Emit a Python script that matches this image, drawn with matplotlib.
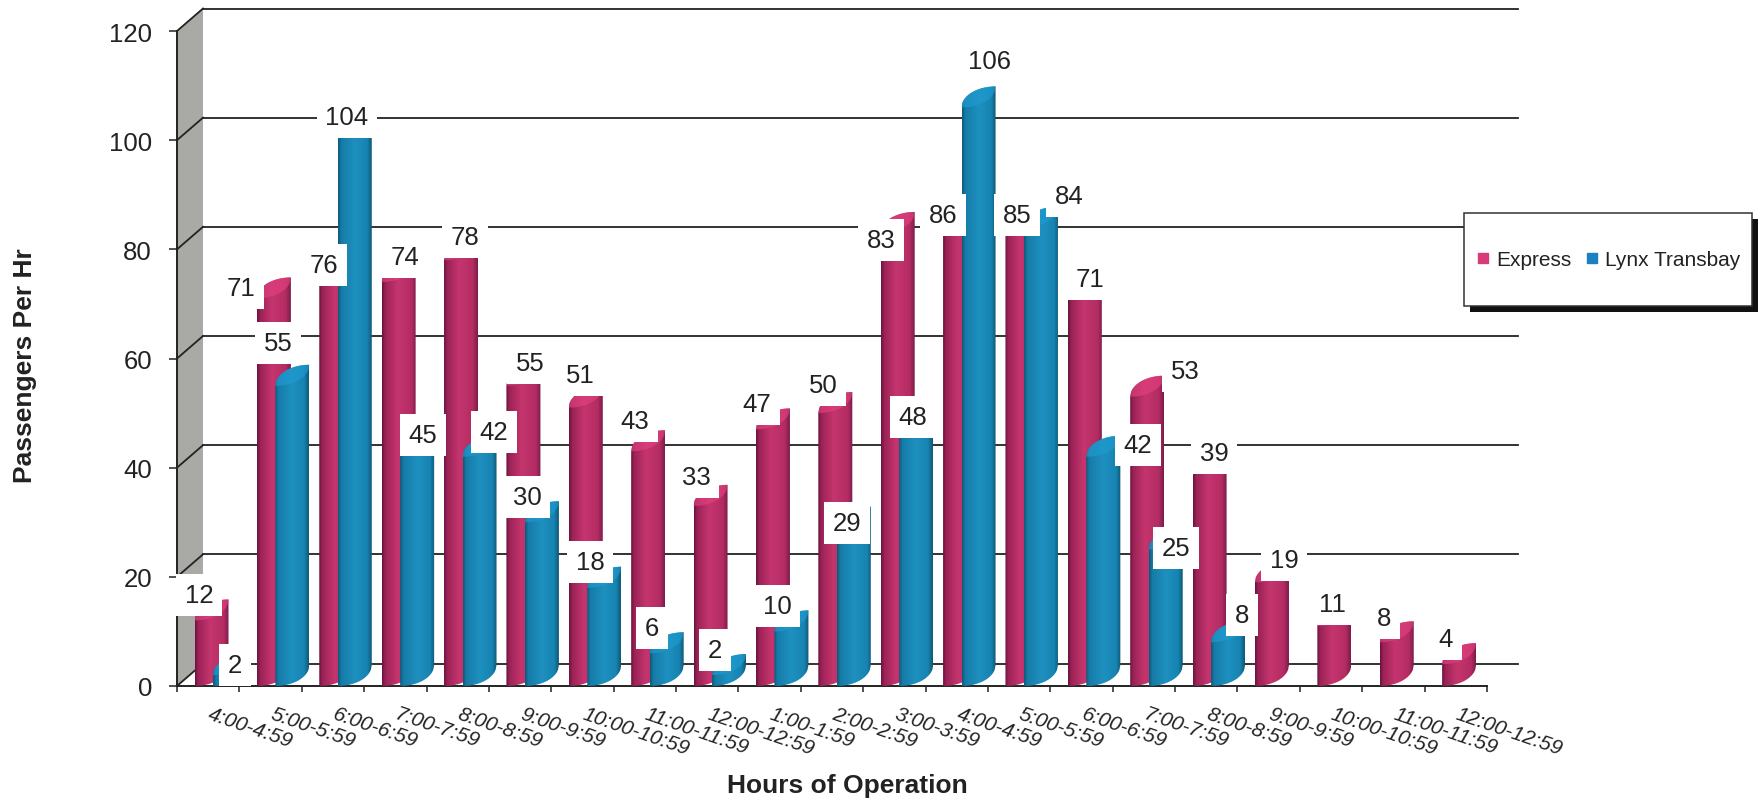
import numpy as np
import matplotlib
matplotlib.use("Agg")
import matplotlib.pyplot as plt
from matplotlib.colors import LinearSegmentedColormap
from matplotlib.lines import Line2D
from matplotlib.patches import Polygon, Rectangle

plt.rcParams["font.family"] = ["Liberation Sans", "DejaVu Sans"]

# ---- data ----
hours = ["4:00-4:59", "5:00-5:59", "6:00-6:59", "7:00-7:59", "8:00-8:59", "9:00-9:59",
         "10:00-10:59", "11:00-11:59", "12:00-12:59", "1:00-1:59", "2:00-2:59", "3:00-3:59",
         "4:00-4:59", "5:00-5:59", "6:00-6:59", "7:00-7:59", "8:00-8:59", "9:00-9:59",
         "10:00-10:59", "11:00-11:59", "12:00-12:59"]
express = [12, 71, 76, 74, 78, 55, 51, 43, 33, 47, 50, 83, 86, 85, 71, 53, 39, 19, 11, 8, 4]
lynx = [2, 55, 104, 45, 42, 30, 18, 6, 2, 10, 29, 48, 106, 84, 42, 25, 8]

# ---- data label centres, in pixels from the top-left of the figure ----
express_label_px = [(199, 595), (241, 288), (324, 265), (405, 257), (465, 237), (530, 363),
                    (580, 375), (635, 421), (696, 477), (757, 404), (823, 385), (881, 240),
                    (943, 215), (1017, 215), (1090, 279), (1185, 371), (1214, 453),
                    (1284, 560), (1332, 604), (1384, 618), (1446, 639)]
lynx_label_px = [(235, 665), (278, 343), (347, 117), (423, 435), (494, 432), (527, 497),
                 (590, 562), (652, 628), (715, 650), (777, 606), (847, 523), (913, 417),
                 (990, 61), (1069, 196), (1138, 445), (1176, 548), (1242, 615)]

# ---- layout, in pixels ----
W, H = 1764, 803
X0, X1 = 177, 1487
Y0, Y1 = 687, 32
YMAX = 120
BACK_DX, BACK_DY = 26, 22.5
BACK_RIGHT = 1518
BAR_W = 34
EXPRESS_OFF, LYNX_OFF = 17.5, 36
CURVE = 21
LEGEND_BOX = (1464, 214, 1752, 307)

fig = plt.figure(figsize=(W / 100, H / 100), dpi=100, facecolor="white")
ax = fig.add_axes([X0 / W, 1 - Y0 / H, (X1 - X0) / W, (Y0 - Y1) / H])
n = len(hours)
ax.set_xlim(0, n)
ax.set_ylim(0, YMAX)
ppx = (X1 - X0) / n
ppy = (Y0 - Y1) / YMAX


def px_to_data(px, py):
    return (px - X0) / ppx, (Y0 - py) / ppy


LINE = "#222222"
dx, dy = BACK_DX / ppx, BACK_DY / ppy
xr = (BACK_RIGHT - X0) / ppx

# side wall and gridlines on the back plane
ax.add_patch(Polygon([(0, 0), (0, YMAX), (dx, YMAX + dy), (dx, dy)],
                     closed=True, fc="#a9aaa6", ec="none", zorder=1, clip_on=False))
yticks = np.arange(0, YMAX + 1, 20)
for v in yticks:
    ax.plot([0, dx], [v, v + dy], color=LINE, lw=1.3, zorder=1.5, clip_on=False)
    ax.plot([dx, xr], [v + dy, v + dy], color=LINE, lw=1.3, zorder=1.5, clip_on=False)

express_cmap = LinearSegmentedColormap.from_list(
    "express", [(0, "#6a143f"), (0.1, "#9c2356"), (0.45, "#c5356e"), (0.85, "#b42c63"), (1, "#7a1c48")])
lynx_cmap = LinearSegmentedColormap.from_list(
    "lynx", [(0, "#0f5878"), (0.1, "#167ca8"), (0.5, "#1e90c0"), (0.86, "#1784b2"), (1, "#105874")])
ramp = np.linspace(0, 1, 128)[None, :]


def draw_bar(index, value, offset, cmap, cap_color, z):
    left = index + offset / ppx
    width = BAR_W / ppx
    h = CURVE / ppy
    t = np.linspace(0, 1, 40)
    xs = left + t * width
    lower = h * (1 - np.sqrt(1 - t ** 2))
    upper = h * np.sqrt(1 - (1 - t) ** 2)
    outline = np.column_stack([np.r_[xs, xs[::-1]], np.r_[lower, (value + upper)[::-1]]])
    image = ax.imshow(ramp, cmap=cmap, extent=(left, left + width, 0, value + h),
                      aspect="auto", interpolation="bilinear", zorder=z, clip_on=True)
    image.set_clip_path(Polygon(outline, closed=True, transform=ax.transData))
    cap = np.column_stack([np.r_[xs, xs[::-1]], np.r_[value + lower, (value + upper)[::-1]]])
    ax.add_patch(Polygon(cap, closed=True, fc=cap_color, ec="none", alpha=0.65,
                         zorder=z + 0.001, clip_on=False))


for i, v in enumerate(express):
    draw_bar(i, v, EXPRESS_OFF, express_cmap, "#e2417f", 3 + i * 0.01)
for i, v in enumerate(lynx):
    draw_bar(i, v, LYNX_OFF, lynx_cmap, "#1f9bd0", 4 + i * 0.01)

ax.set_xlim(0, n)
ax.set_ylim(0, YMAX)

# axes
for side in ("top", "right"):
    ax.spines[side].set_visible(False)
for side in ("left", "bottom"):
    ax.spines[side].set_color(LINE)
    ax.spines[side].set_linewidth(1.4)
    ax.spines[side].set_zorder(2)
ax.set_xticks(np.arange(n + 1))
ax.set_xticklabels([])
ax.set_yticks(yticks)
ax.set_yticklabels([str(v) for v in yticks], fontsize=18.5, color="#222222")
ax.tick_params(axis="y", length=6, width=1.1, color=LINE, pad=12)
ax.tick_params(axis="x", length=4, width=1.1, color=LINE)
ax.patch.set_alpha(0)

# slanted hour labels below the axis
for i, name in enumerate(hours):
    ax.text(i + 30 / ppx, -32 / ppy, name, rotation=-19, rotation_mode="anchor", ha="left",
            va="baseline", fontsize=15, style="italic", color="#222222", clip_on=False)

# value labels sit on white boxes above everything else
for values, centres in ((express, express_label_px), (lynx, lynx_label_px)):
    for v, (px, py) in zip(values, centres):
        x, y = px_to_data(px, py + 1)
        ax.text(x, y, str(v), ha="center", va="center", fontsize=18.5, color="#222222", zorder=10,
                clip_on=False,
                bbox=dict(boxstyle="square,pad=0.34", fc="white", ec="none"))

fig.text(25 / W, 1 - 366 / H, "Passengers Per Hr", rotation=90, ha="center", va="center",
         fontsize=19, fontweight="bold", color="#222222")
fig.text(847 / W, 1 - 786 / H, "Hours of Operation", ha="center", va="center",
         fontsize=19, fontweight="bold", color="#222222")

# legend panel with a hard drop shadow
lx0, ly0 = px_to_data(LEGEND_BOX[0], LEGEND_BOX[3])
lx1, ly1 = px_to_data(LEGEND_BOX[2], LEGEND_BOX[1])
shift_x, shift_y = 6 / ppx, 6 / ppy
ax.add_patch(Rectangle((lx0 + shift_x, ly0 - shift_y), lx1 - lx0, ly1 - ly0, fc="#111111", ec="none",
                       zorder=18, clip_on=False))
ax.add_patch(Rectangle((lx0, ly0), lx1 - lx0, ly1 - ly0, fc="white", ec="#333333", lw=1.1,
                       zorder=19, clip_on=False))
handles = [Line2D([], [], ls="none", marker="s", ms=7, mfc="#d93a78", mec="#d93a78", label="Express"),
           Line2D([], [], ls="none", marker="s", ms=7, mfc="#1a80c0", mec="#1a80c0", label="Lynx Transbay")]
lcx, lcy = px_to_data(1608.5, 261)
legend = ax.legend(handles=handles, ncol=2, fontsize=15, frameon=False, loc="center",
                   bbox_to_anchor=(lcx / n, lcy / YMAX), borderpad=0, borderaxespad=0,
                   handlelength=0.6, handletextpad=0.35, columnspacing=0.67, labelcolor="#222222")
legend.set_zorder(20)

fig.savefig("out.png", dpi=100, facecolor="white")
